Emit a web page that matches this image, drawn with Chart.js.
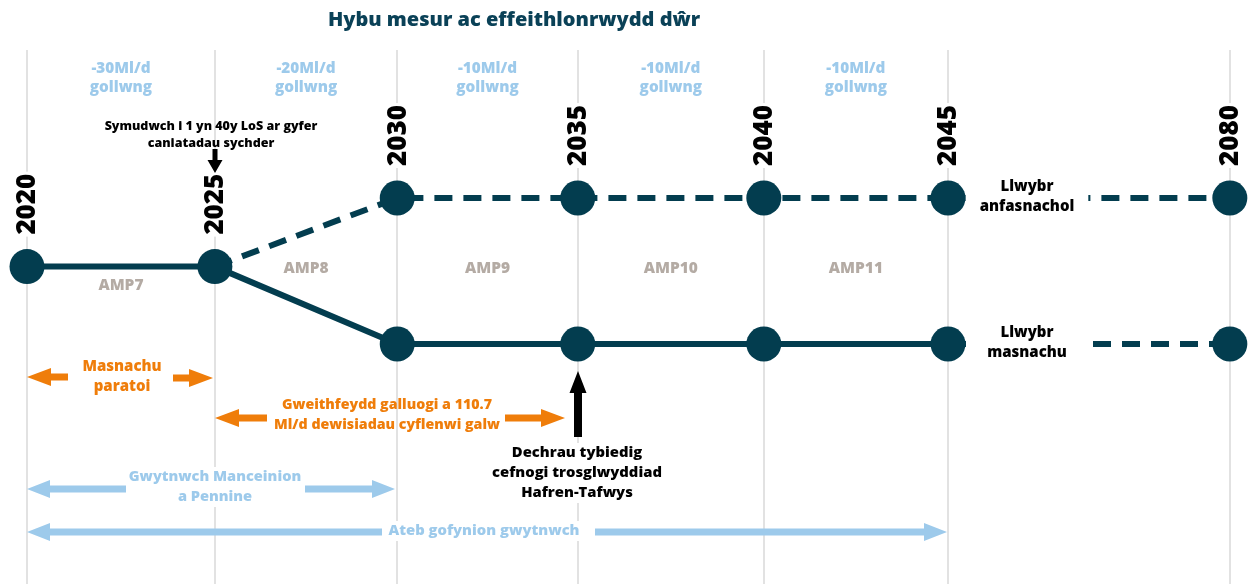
<!DOCTYPE html>
<html>
<head>
<meta charset="utf-8">
<script src="https://cdn.jsdelivr.net/npm/chart.js@4/dist/chart.umd.min.js"></script>
<style>
  html, body { margin: 0; background: #fff; }
  #wrap { width: 1248px; height: 584px; }
</style>
</head>
<body>
<div id="wrap"><canvas id="timeline"></canvas></div>
<script>
// timeline years and where each one sits along the axis (2080 is pushed further out)
const years = ['2020', '2025', '2030', '2035', '2040', '2045', '2080'];
const slots = [0, 1.02, 2.01, 2.99, 4, 5, 6.53];
// path levels (1 = non-trading route, 0 = trading route)
const startLevel = [0.53, 0.53];
const nonTradingPath = [null, 0.53, 1, 1, 1, 1, 1];
const tradingPath = [null, 0.53, 0, 0, 0, 0, 0];
// labels for the gaps between the years
const reductions = ['-30Ml/d', '-20Ml/d', '-10Ml/d', '-10Ml/d', '-10Ml/d'];
const ampPeriods = ['AMP7', 'AMP8', 'AMP9', 'AMP10', 'AMP11'];

const teal = '#033d4f';
const blue = '#9dcaeb';
const orange = '#ef7d0a';
const grey = '#b4aba4';
const FONT = '"Open Sans", "DejaVu Sans", sans-serif';
const W = '800 ';

function pts(values) {
    return values.map((v, i) => v === null ? null : { x: slots[i], y: v }).filter(p => p);
}

const markers = pts(startLevel).concat(pts(nonTradingPath).slice(1), pts(tradingPath).slice(1));

// text blocks: [lines, x, y of first line, line height, size, colour, white box padding]
const notes = [
    [['Symudwch i 1 yn 40y LoS ar gyfer', 'caniatadau sychder'], 211, 126, 17, 12.5, '#000', 0],
    [['Llwybr', 'anfasnachol'], 1027, 187, 20, 15, '#000', 14],
    [['Llwybr', 'masnachu'], 1027, 333, 20, 15, '#000', 20],
    [['Masnachu', 'paratoi'], 122, 367, 20, 15, orange, 0],
    [['Gweithfeydd galluogi a 110.7', 'Ml/d dewisiadau cyflenwi galw'], 387, 405, 20, 14.2, orange, 0],
    [['Dechrau tybiedig', 'cefnogi trosglwyddiad', 'Hafren-Tafwys'], 577, 453, 20, 14.8, '#000', 4],
    [['Gwytnwch Manceinion', 'a Pennine'], 215, 477, 20, 14.6, blue, 4],
    [['Ateb gofynion gwytnwch'], 484, 531, 20, 14.8, blue, 4]
];

// arrows: tail x, tail y, tip x, tip y, shaft, head length, head width, colour
const arrows = [
    [68, 377, 27, 377, 7, 24, 18, orange],
    [173, 378, 213, 378, 7, 24, 18, orange],
    [267, 418, 215, 418, 7, 24, 18, orange],
    [505, 418, 565, 418, 7, 24, 18, orange],
    [578, 437, 578, 371, 8, 22, 17, '#000'],
    [215, 149, 215, 173, 5, 13, 15, '#000'],
    [126, 489, 27, 489, 7, 23, 18, blue],
    [305, 489, 395, 489, 7, 23, 18, blue],
    [382, 532, 27, 532, 7, 23, 18, blue],
    [595, 532, 947, 532, 7, 23, 18, blue]
];

function drawArrow(ctx, a) {
    const [x1, y1, x2, y2, shaft, headLen, headW, color] = a;
    const ang = Math.atan2(y2 - y1, x2 - x1);
    const len = Math.hypot(x2 - x1, y2 - y1);
    ctx.save();
    ctx.translate(x1, y1);
    ctx.rotate(ang);
    ctx.fillStyle = color;
    ctx.beginPath();
    ctx.moveTo(0, -shaft / 2);
    ctx.lineTo(len - headLen, -shaft / 2);
    ctx.lineTo(len - headLen, -headW / 2);
    ctx.lineTo(len, 0);
    ctx.lineTo(len - headLen, headW / 2);
    ctx.lineTo(len - headLen, shaft / 2);
    ctx.lineTo(0, shaft / 2);
    ctx.closePath();
    ctx.fill();
    ctx.restore();
}

const annotate = {
    id: 'annotate',
    afterDatasetsDraw(chart) {
        const { ctx, scales: { x, y } } = chart;
        ctx.save();
        ctx.textAlign = 'center';
        ctx.textBaseline = 'middle';

        // title
        ctx.font = W + '20px ' + FONT;
        ctx.fillStyle = '#0a4157';
        ctx.fillText('Hybu mesur ac effeithlonrwydd dŵr', 514, 20);

        // reduction + AMP labels between the year lines
        for (let i = 0; i < reductions.length; i++) {
            const mid = (x.getPixelForValue(slots[i]) + x.getPixelForValue(slots[i + 1])) / 2;
            ctx.font = W + '15.3px ' + FONT;
            ctx.fillStyle = blue;
            ctx.fillText(reductions[i], mid, 69);
            ctx.fillText('gollwng', mid, 88);
            ctx.font = W + '15.5px ' + FONT;
            ctx.fillStyle = grey;
            ctx.fillText(ampPeriods[i], mid, i === 0 ? 286 : 269);
        }

        // year labels, rotated, above each top marker
        ctx.font = W + '26px ' + FONT;
        years.forEach((yr, i) => {
            const level = i < 2 ? startLevel[i] : nonTradingPath[i];
            const px = x.getPixelForValue(slots[i]);
            const bottom = y.getPixelForValue(level) - 32;
            const w = ctx.measureText(yr).width;
            ctx.save();
            ctx.translate(px, bottom);
            ctx.rotate(-Math.PI / 2);
            ctx.fillStyle = '#fff';
            ctx.fillRect(-2, -15, w + 4, 30);
            ctx.fillStyle = '#000';
            ctx.textAlign = 'left';
            ctx.fillText(yr, 0, 1);
            ctx.restore();
        });

        // text blocks
        notes.forEach(([lines, nx, ny, lh, size, color, pad]) => {
            ctx.font = W + size + 'px ' + FONT;
            if (pad) {
                const w = Math.max(...lines.map(l => ctx.measureText(l).width));
                ctx.fillStyle = '#fff';
                ctx.fillRect(nx - w / 2 - pad, ny - lh / 2, w + pad * 2, lh * lines.length);
            }
            ctx.fillStyle = color;
            lines.forEach((l, k) => ctx.fillText(l, nx, ny + k * lh));
        });

        arrows.forEach(a => drawArrow(ctx, a));
        ctx.restore();
    }
};

const lineStyle = {
    borderColor: teal,
    borderWidth: 6,
    borderCapStyle: 'butt',
    pointRadius: 0,
    fill: false,
    tension: 0,
    clip: false,
    order: 2
};

new Chart(document.getElementById('timeline'), {
    type: 'line',
    data: {
        datasets: [
            Object.assign({ data: pts(startLevel) }, lineStyle),
            Object.assign({ data: pts(nonTradingPath), borderDash: [18, 11] }, lineStyle),
            Object.assign({
                data: pts(tradingPath),
                segment: { borderDash: c => c.p0DataIndex >= 4 ? [18, 11] : undefined }
            }, lineStyle),
            {
                data: markers,
                showLine: false,
                pointRadius: 17.5,
                pointHoverRadius: 17.5,
                pointBackgroundColor: teal,
                pointBorderWidth: 0,
                clip: false,
                order: 1
            }
        ]
    },
    options: {
        responsive: true,
        maintainAspectRatio: false,
        animation: false,
        layout: { autoPadding: false, padding: { top: 50, left: 0, right: 0, bottom: 0 } },
        plugins: { legend: { display: false }, tooltip: { enabled: false }, title: { display: false } },
        scales: {
            x: {
                type: 'linear',
                min: -27 / 184.2,
                max: (1248 - 27) / 184.2,
                afterBuildTicks: s => { s.ticks = slots.map(v => ({ value: v })); },
                grid: { color: '#e2e2e2', lineWidth: 2, drawTicks: false },
                border: { display: false },
                ticks: { display: false }
            },
            y: {
                display: false,
                min: (344 - 584) / 146,
                max: (344 - 50) / 146
            }
        }
    },
    plugins: [annotate]
});
</script>
</body>
</html>
